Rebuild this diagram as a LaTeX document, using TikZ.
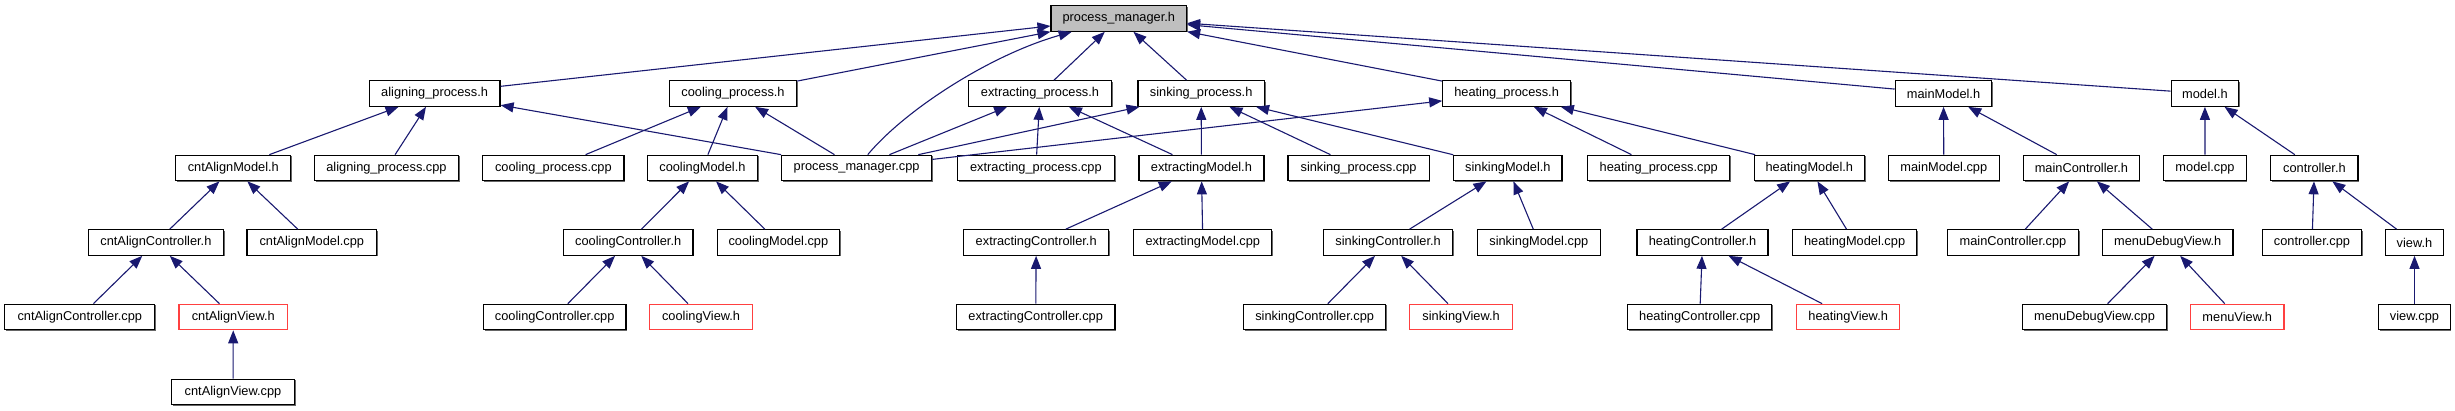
\documentclass[tikz,border=0pt]{standalone}
\usepackage{fontspec}
\setmainfont{Liberation Sans}
\usetikzlibrary{arrows.meta,shadows}
\definecolor{edgeblue}{RGB}{25,25,112}
\definecolor{viewred}{RGB}{255,64,64}
\definecolor{headgrey}{RGB}{191,191,191}

\begin{document}
\begin{tikzpicture}[
  x=1pt,y=-1pt,
  box/.style={draw,line width=1.2pt,fill=white,minimum width=#1,minimum height=25.5pt,inner sep=0pt},
  file/.style={box=#1,drop shadow={shadow xshift=1.2pt,shadow yshift=-1.2pt,fill=black!60,opacity=1}},
  view/.style={box=#1,draw=viewred},
  dep/.style={{Triangle[length=13pt,width=10pt]}-,line width=1.1pt,edgeblue},
  every node/.append style={font=\fontsize{12.8}{14}\selectfont}
]
  \useasboundingbox (0,0) rectangle (2455,411);

  % top
  \node[file=135.5,fill=headgrey] (pmh) at (1118.8,18.5) {process\_manager.h};

  % process headers
  \node[file=130.8] (alignh) at (434.6,93.5) {aligning\_process.h};
  \node[file=127] (coolh) at (733,93.5) {cooling\_process.h};
  \node[file=143.3] (extrh) at (1040,93.5) {extracting\_process.h};
  \node[file=126.5] (sinkh) at (1201.2,93.5) {sinking\_process.h};
  \node[file=127.6] (heath) at (1506.6,93.5) {heating\_process.h};
  \node[file=96.4] (mainmodelh) at (1943.5,93.5) {mainModel.h};
  \node[file=67.6] (modelh) at (2204.9,93.5) {model.h};

  % models
  \node[file=115.1] (alignmodelh) at (233.3,168) {cntAlignModel.h};
  \node[file=144.4] (aligncpp) at (386.5,168) {aligning\_process.cpp};
  \node[file=141.3] (coolcpp) at (553.4,168) {cooling\_process.cpp};
  \node[file=109.8] (coolmodelh) at (702.4,168) {coolingModel.h};
  \node[file=150.4] (pmcpp) at (856.6,168) {process\_manager.cpp};
  \node[file=156.9] (extrcpp) at (1035.9,168) {extracting\_process.cpp};
  \node[file=125] (extrmodelh) at (1201.4,168) {extractingModel.h};
  \node[file=141.2] (sinkcpp) at (1358.6,168) {sinking\_process.cpp};
  \node[file=108.2] (sinkmodelh) at (1507.9,168) {sinkingModel.h};
  \node[file=142] (heatcpp) at (1658.7,168) {heating\_process.cpp};
  \node[file=110.2] (heatmodelh) at (1809.3,168) {heatingModel.h};
  \node[file=110.7] (mainmodelcpp) at (1943.8,168) {mainModel.cpp};
  \node[file=115.6] (maincontrolh) at (2081.4,168) {mainController.h};
  \node[file=82.5] (modelcpp) at (2205,168) {model.cpp};
  \node[file=87.3] (controlh) at (2314.4,168) {controller.h};

  % controllers
  \node[file=134.9] (aligncontrolh) at (155.9,242.5) {cntAlignController.h};
  \node[file=129.7] (alignmodelcpp) at (311.8,242.5) {cntAlignModel.cpp};
  \node[file=129.7] (coolcontrolh) at (628.2,242.5) {coolingController.h};
  \node[file=122.6] (coolmodelcpp) at (778.4,242.5) {coolingModel.cpp};
  \node[file=144.9] (extrcontrolh) at (1036.2,242.5) {extractingController.h};
  \node[file=138.1] (extrmodelcpp) at (1202.8,242.5) {extractingModel.cpp};
  \node[file=129.2] (sinkcontrolh) at (1388.1,242.5) {sinkingController.h};
  \node[file=122.9] (sinkmodelcpp) at (1538.8,242.5) {sinkingModel.cpp};
  \node[file=131] (heatcontrolh) at (1702.5,242.5) {heatingController.h};
  \node[file=124.1] (heatmodelcpp) at (1854.6,242.5) {heatingModel.cpp};
  \node[file=131] (maincontrolcpp) at (2013,242.5) {mainController.cpp};
  \node[file=130.5] (debugviewh) at (2167.7,242.5) {menuDebugView.h};
  \node[file=99.5] (controlcpp) at (2312,242.5) {controller.cpp};
  \node[file=57.5] (viewh) at (2414.5,242.5) {view.h};

  % views
  \node[file=150.1] (aligncontrolcpp) at (79.8,317) {cntAlignController.cpp};
  \node[view=108.8] (alignviewh) at (233.3,317) {cntAlignView.h};
  \node[file=142.7] (coolcontrolcpp) at (554.7,317) {coolingController.cpp};
  \node[view=103] (coolviewh) at (701.1,317) {coolingView.h};
  \node[file=158.5] (extrcontrolcpp) at (1035.7,317) {extractingController.cpp};
  \node[file=142.3] (sinkcontrolcpp) at (1314.7,317) {sinkingController.cpp};
  \node[view=102.5] (sinkviewh) at (1461.1,317) {sinkingView.h};
  \node[file=144.3] (heatcontrolcpp) at (1699.7,317) {heatingController.cpp};
  \node[view=102.8] (heatviewh) at (1848.2,317) {heatingView.h};
  \node[file=143.7] (debugviewcpp) at (2094.5,317) {menuDebugView.cpp};
  \node[view=93.7] (menuviewh) at (2237.2,317) {menuView.h};
  \node[file=71.3] (viewcpp) at (2414.5,317) {view.cpp};

  \node[file=123] (alignviewcpp) at (233,392) {cntAlignView.cpp};

  % includes of process_manager.h
  \draw[dep] (pmh) -- (alignh);
  \draw[dep] (pmh) -- (coolh);
  \draw[dep] (pmh) .. controls (990,55) and (905,110) .. (pmcpp);
  \draw[dep] (pmh) -- (extrh);
  \draw[dep] (pmh) -- (sinkh);
  \draw[dep] (pmh) -- (heath);
  \draw[dep] (pmh) -- (mainmodelh);
  \draw[dep] (pmh) -- (modelh);

  % process headers
  \draw[dep] (alignh) -- (alignmodelh);
  \draw[dep] (alignh) -- (aligncpp);
  \draw[dep] (alignh) -- (pmcpp);
  \draw[dep] (coolh) -- (coolcpp);
  \draw[dep] (coolh) -- (coolmodelh);
  \draw[dep] (coolh) -- (pmcpp);
  \draw[dep] (extrh) -- (pmcpp);
  \draw[dep] (extrh) -- (extrcpp);
  \draw[dep] (extrh) -- (extrmodelh);
  \draw[dep] (sinkh) -- (pmcpp);
  \draw[dep] (sinkh) -- (extrmodelh);
  \draw[dep] (sinkh) -- (sinkcpp);
  \draw[dep] (sinkh) -- (sinkmodelh);
  \draw[dep] (heath) -- (pmcpp);
  \draw[dep] (heath) -- (heatcpp);
  \draw[dep] (heath) -- (heatmodelh);
  \draw[dep] (mainmodelh) -- (mainmodelcpp);
  \draw[dep] (mainmodelh) -- (maincontrolh);
  \draw[dep] (modelh) -- (modelcpp);
  \draw[dep] (modelh) -- (controlh);

  % models and controllers
  \draw[dep] (alignmodelh) -- (aligncontrolh);
  \draw[dep] (alignmodelh) -- (alignmodelcpp);
  \draw[dep] (aligncontrolh) -- (aligncontrolcpp);
  \draw[dep] (aligncontrolh) -- (alignviewh);
  \draw[dep] (alignviewh) -- (alignviewcpp);
  \draw[dep] (coolmodelh) -- (coolcontrolh);
  \draw[dep] (coolmodelh) -- (coolmodelcpp);
  \draw[dep] (coolcontrolh) -- (coolcontrolcpp);
  \draw[dep] (coolcontrolh) -- (coolviewh);
  \draw[dep] (extrmodelh) -- (extrcontrolh);
  \draw[dep] (extrmodelh) -- (extrmodelcpp);
  \draw[dep] (extrcontrolh) -- (extrcontrolcpp);
  \draw[dep] (sinkmodelh) -- (sinkcontrolh);
  \draw[dep] (sinkmodelh) -- (sinkmodelcpp);
  \draw[dep] (sinkcontrolh) -- (sinkcontrolcpp);
  \draw[dep] (sinkcontrolh) -- (sinkviewh);
  \draw[dep] (heatmodelh) -- (heatcontrolh);
  \draw[dep] (heatmodelh) -- (heatmodelcpp);
  \draw[dep] (heatcontrolh) -- (heatcontrolcpp);
  \draw[dep] (heatcontrolh) -- (heatviewh);
  \draw[dep] (maincontrolh) -- (maincontrolcpp);
  \draw[dep] (maincontrolh) -- (debugviewh);
  \draw[dep] (debugviewh) -- (debugviewcpp);
  \draw[dep] (debugviewh) -- (menuviewh);
  \draw[dep] (controlh) -- (controlcpp);
  \draw[dep] (controlh) -- (viewh);
  \draw[dep] (viewh) -- (viewcpp);
\end{tikzpicture}
\end{document}
